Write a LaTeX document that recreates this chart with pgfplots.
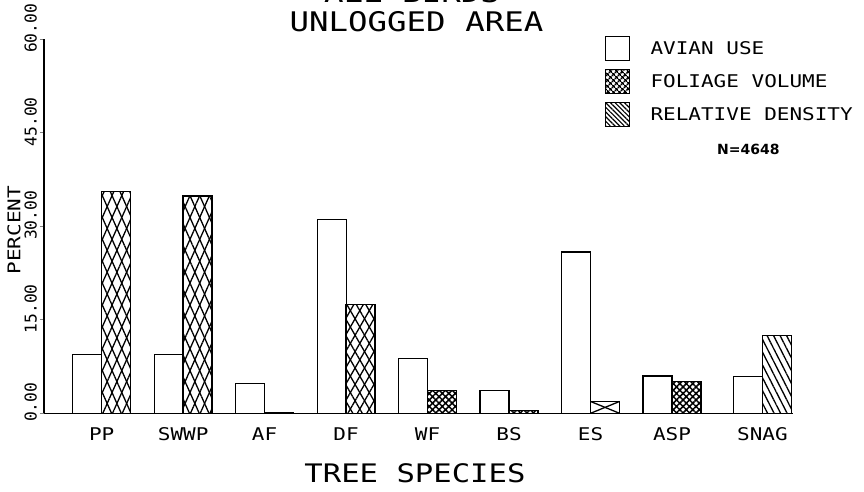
\documentclass[border=0pt]{standalone}
\usepackage{pgfplots}
\pgfplotsset{compat=1.18}
\usetikzlibrary{patterns.meta}
\usepackage{fontspec}
\setmainfont{DejaVu Sans Mono}[FakeStretch=1.2]
\newfontfamily\pltn{DejaVu Sans Mono}
\newfontfamily\pltw{DejaVu Sans Mono}[FakeStretch=1.2]
\newfontfamily\boldsans{DejaVu Sans}
\newcommand\ftitle{\pltw\fontsize{27}{29}\selectfont}
\newcommand\flab{\pltw\fontsize{25.5}{28}\selectfont}
\newcommand\fleg{\pltw\fontsize{17.5}{20}\selectfont}
\newcommand\fytick{\pltn\fontsize{16.3}{18}\selectfont}
\begin{document}
\begin{tikzpicture}
\useasboundingbox (-44pt,-77.7pt) rectangle (820pt,413.3pt);
\begin{axis}[
  scale only axis, width=749pt, height=373.9pt,
  at={(0pt,0pt)}, anchor=south west,
  xmin=-0.708, xmax=8.485, ymin=0, ymax=60,
  axis lines*=left, axis line style={-, line width=1.3pt},
  clip=false,
  xtick={0,1,2,3,4,5,6,7,8.11},
  xticklabels={PP,SWWP,AF,DF,WF,BS,ES,ASP,SNAG},
  xtick style={draw=none},
  xticklabel style={font=\fleg, anchor=base, yshift=-23.4pt},
  ytick={0,15,30,45,60},
  yticklabels={0.00,15.00,30.00,45.00,60.00},
  tick align=outside, major tick length=4pt,
  ytick style={line width=1.2pt},
  yticklabel style={font=\fytick, yshift=11pt, rotate=90, anchor=south, inner sep=0pt},
  yticklabel shift=3pt,
  ylabel={PERCENT},
  ylabel style={font=\fleg, at={(axis description cs:-0.040,0.49)}, anchor=center},
  xlabel={TREE SPECIES},
  xlabel style={font=\flab, at={(axis description cs:0.4953,-0.1856)}, anchor=base},
  legend style={draw=none, fill=none, at={(axis description cs:0.749,1.01)}, anchor=north west,
    inner sep=0pt, outer sep=0pt, row sep=7.7pt, column sep=20pt, font=\fleg,
    nodes={inner sep=0pt}},
  legend cell align=left,
]
% avian use
\addplot[ybar, bar width=29pt, bar shift=-14.5pt, fill=white, draw=black, line width=1.2pt, forget plot]
  coordinates {(0,9.5) (1,9.5) (2,4.75) (3,31.1) (4,8.8) (5,3.7) (6,25.9) (7,6.0) (8.11,5.9)};
% foliage volume: PP, SWWP
\addplot[ybar, bar width=29pt, bar shift=14.5pt, draw=none, pattern={Lines[angle=66,distance=8.9pt,line width=1.3pt]}, forget plot]
  coordinates {(0,35.6) (1,34.9)};
\addplot[ybar, bar width=29pt, bar shift=14.5pt, draw=black, line width=1.4pt, pattern={Lines[angle=-66,distance=8.9pt,line width=1.3pt]}, forget plot]
  coordinates {(0,35.6) (1,34.9)};
% foliage volume: DF
\addplot[ybar, bar width=29pt, bar shift=14.5pt, draw=none, pattern={Lines[angle=60,distance=8.2pt,line width=1.3pt]}, forget plot]
  coordinates {(3,17.5)};
\addplot[ybar, bar width=29pt, bar shift=14.5pt, draw=black, line width=1.4pt, pattern={Lines[angle=-60,distance=8.2pt,line width=1.3pt]}, forget plot]
  coordinates {(3,17.5)};
% foliage volume: AF, WF, BS, ASP
\addplot[ybar, bar width=29pt, bar shift=14.5pt, draw=black, line width=1.3pt, pattern={Hatch[angle=45,distance=4.6pt,line width=1.5pt]}, forget plot]
  coordinates {(2,0.1) (4,3.7) (5,0.5) (7,5.07)};
% foliage volume: ES
\addplot[ybar, bar width=29pt, bar shift=14.5pt, fill=white, draw=black, line width=1.3pt, forget plot]
  coordinates {(6,1.9)};
\addplot[sharp plot, no markers, line width=1.3pt, black, forget plot] coordinates {(6,0) (6.356,1.9)};
\addplot[sharp plot, no markers, line width=1.3pt, black, forget plot] coordinates {(6,1.9) (6.356,0)};
% relative density: SNAG
\addplot[ybar, bar width=29pt, bar shift=14.5pt, draw=black, line width=1.3pt, pattern={Lines[angle=-63,distance=5.8pt,line width=1.3pt]}, forget plot]
  coordinates {(8.11,12.46)};
% legend
\addlegendimage{legend image code/.code={\draw[line width=1.3pt, fill=white] (0pt,-12pt) rectangle (24pt,12pt);}}
\addlegendentry{AVIAN USE}
\addlegendimage{legend image code/.code={\draw[line width=1.3pt, pattern={Hatch[angle=45,distance=4pt,line width=1.5pt]}] (0pt,-12pt) rectangle (24pt,12pt);}}
\addlegendentry{FOLIAGE VOLUME}
\addlegendimage{legend image code/.code={\draw[line width=1.3pt, pattern={Lines[angle=-45,distance=3.3pt,line width=1.2pt]}] (0pt,-12pt) rectangle (24pt,12pt);}}
\addlegendentry{RELATIVE DENSITY}
\end{axis}
\node[font=\ftitle, anchor=base] at (368pt,410.3pt) {ALL BIRDS};
\node[font=\ftitle, anchor=base] at (372.5pt,381.6pt) {UNLOGGED AREA};
\node[font=\boldsans\bfseries\fontsize{14}{16}\selectfont, anchor=base] at (704.3pt,259.3pt) {N=4648};
\end{tikzpicture}
\end{document}
